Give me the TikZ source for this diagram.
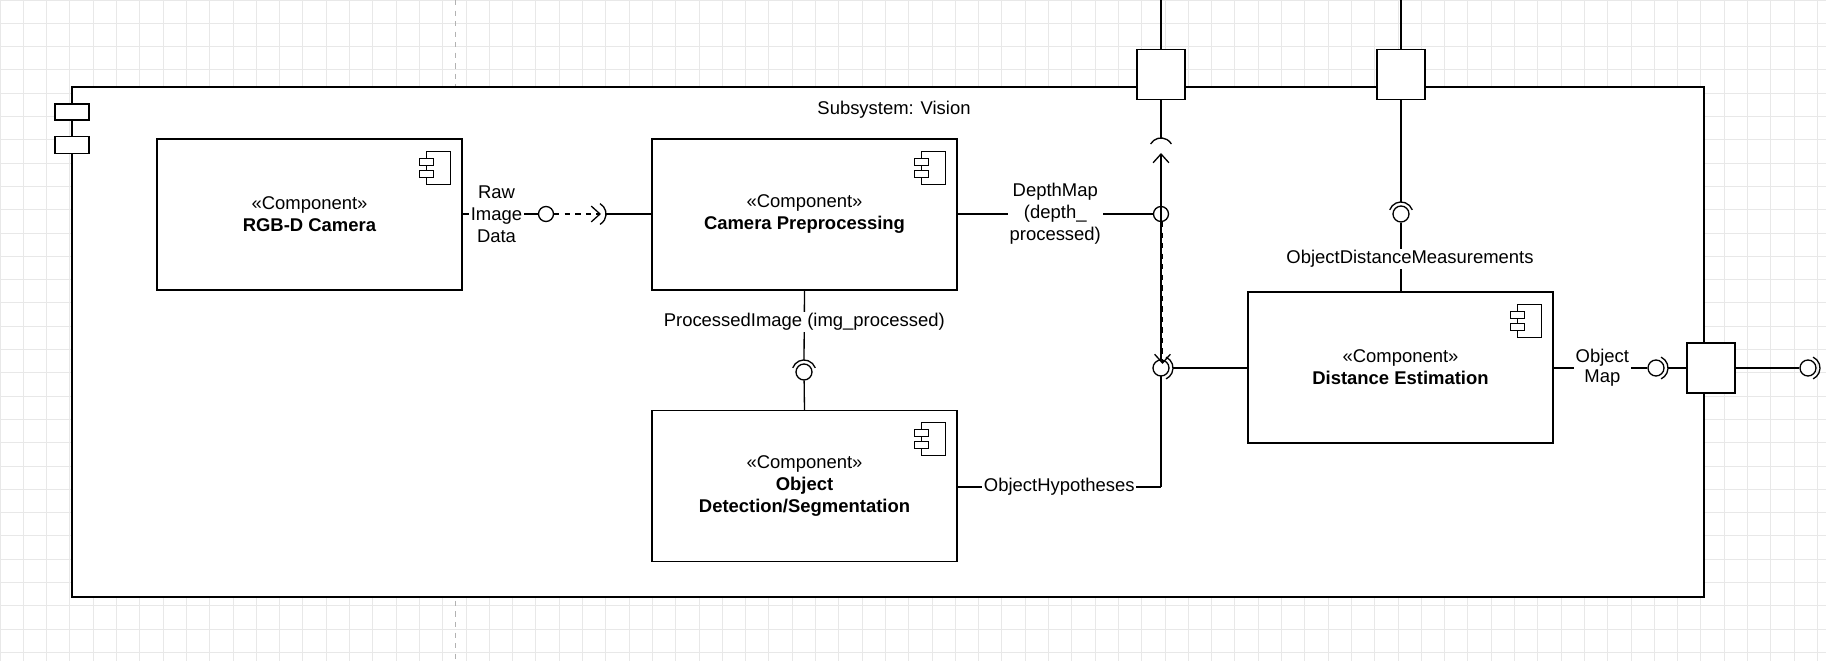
\documentclass[tikz,border=0pt]{standalone}
\usepackage{fontspec}
\setmainfont{Liberation Sans}
\usetikzlibrary{arrows.meta}
\begin{document}
\begin{tikzpicture}[x=0.02cm,y=-0.02cm,line width=0.75pt,
  every node/.style={font=\fontsize{10.5pt}{12.5pt}\selectfont},
  comp/.style={draw,fill=white,minimum width=305*0.02cm,minimum height=151*0.02cm,align=center,inner sep=0pt},
  port/.style={draw,fill=white,minimum width=48*0.02cm,minimum height=50*0.02cm,inner sep=0pt},
  lbl/.style={fill=white,inner sep=1pt,align=center},
  ball/.style={draw,fill=white,circle,minimum size=16*0.02cm,inner sep=0pt},
  arr/.style={-{Straight Barb[length=5pt,width=9pt]}},
  icon/.pic={\draw[fill=white] (-12,0) rectangle (12,33);
    \draw[fill=white] (-19,7) rectangle (-5,14); \draw[fill=white] (-19,19) rectangle (-5,26);}]
\useasboundingbox (0,0) rectangle (1826,661);
\fill[white] (0,0) rectangle (1826,661);
\foreach \x in {0,23.3,...,1826} \draw[gray!18,line width=0.5pt] (\x,0) -- (\x,661);
\foreach \y in {0,23.3,...,661} \draw[gray!18,line width=0.5pt] (0,\y) -- (1826,\y);
\draw[gray!60,dashed,line width=0.5pt] (455,0) -- (455,661);
% frame
\node[draw,fill=white,minimum width=1632*0.02cm,minimum height=510*0.02cm,inner sep=0pt] (frame) at (888,342) {};
\node[draw,fill=white,minimum width=34*0.02cm,minimum height=16*0.02cm,inner sep=0pt] (t1) at (72,112) {};
\node[draw,fill=white,minimum width=34*0.02cm,minimum height=17*0.02cm,inner sep=0pt] (t2) at (72,145) {};
\node (title) at (894,110) {Subsystem: Vision};
% components
\node[comp] (cam) at (309.5,214.5) {«Component»\\\textbf{RGB-D Camera}};
\node[comp] (pre) at (804.5,214.5) {«Component»\\\textbf{Camera Preprocessing}};
\node[comp] (det) at (804.5,486) {«Component»\\\textbf{Object}\\\textbf{Detection/Segmentation}};
\node[comp] (dist) at (1400.5,367.5) {«Component»\\\textbf{Distance Estimation}};
\foreach \n in {cam,pre,det,dist} \pic at ([xshift=-24*0.02cm,yshift=-13*0.02cm]\n.north east) {icon};
% ports
\node[port] (p1) at (1161,74.5) {};
\node[port] (p2) at (1401,74.5) {};
\node[port] (p3) at (1711,368) {};
\coordinate (top1) at (1161,0); \coordinate (top2) at (1401,0);
\draw (top1) -- (p1); \draw (top2) -- (p2);
% Raw image data
\node[ball,minimum size=15*0.02cm] (b1) at (546,214) {};
\coordinate (s1) at (594,214);
\draw (cam.east|-b1) -- node[lbl,pos=0.45] {Raw\\Image\\Data} (b1);
\draw[dashed,arr] (b1) -- (601,214);
\draw (s1) ++(-60:12) arc[start angle=-60,end angle=60,radius=12];
\draw (606,214) -- (pre.west|-s1);
% DepthMap
\node[ball,minimum size=15*0.02cm] (b2) at (1161,214) {};
\draw (pre.east|-b2) -- node[lbl,pos=0.5] {DepthMap\\(depth\_\\processed)} (b2);
% top socket into p1
\coordinate (s2) at (1161,150);
\draw (s2) ++(210:12) arc[start angle=210,end angle=330,radius=12];
\draw (p1) -- (1161,138);
% ObjectHypotheses
\coordinate (oh) at (1161,487);
\draw (det.east|-oh) -- node[lbl,pos=0.5] {ObjectHypotheses} (oh);
\draw[arr] (oh) -- (1161,153);
% socket at dist left
\node[ball] (b3) at (1161,368) {};
\draw (1161,368) ++(-65:12) arc[start angle=-65,end angle=65,radius=12];
\draw[dashed,arr] (1162.5,222) -- (1162.5,364);
\draw (1173,368) -- (dist.west|-b3);
% ProcessedImage
\node[ball] (b4) at (804,372) {};
\draw (804,372) ++(200:12) arc[start angle=200,end angle=340,radius=12];
\draw (pre.south) -- node[lbl,pos=0.45] {ProcessedImage (img\_processed)} (804,360);
\draw (b4) -- (det.north);
% ObjectDistanceMeasurements
\node[ball] (b5) at (1401,214) {};
\draw (1401,214) ++(200:12) arc[start angle=200,end angle=340,radius=12];
\draw (p2) -- (1401,202);
\draw (b5) -- (1401,291);
\node[lbl] (odm) at (1410,259) {ObjectDistanceMeasurements};
% Object Map
\node[ball] (b6) at (1656,368) {};
\draw (1656,368) ++(-65:12) arc[start angle=-65,end angle=65,radius=12];
\draw (dist.east|-b6) -- node[lbl,pos=0.52,font=\fontsize{10.5pt}{11.5pt}\selectfont] {Object\\Map} (b6);
\draw (1668,368) -- (p3);
\node[ball] (b7) at (1808,368) {};
\draw (1808,368) ++(-65:12) arc[start angle=-65,end angle=65,radius=12];
\draw (p3) -- (b7);
\end{tikzpicture}
\end{document}
